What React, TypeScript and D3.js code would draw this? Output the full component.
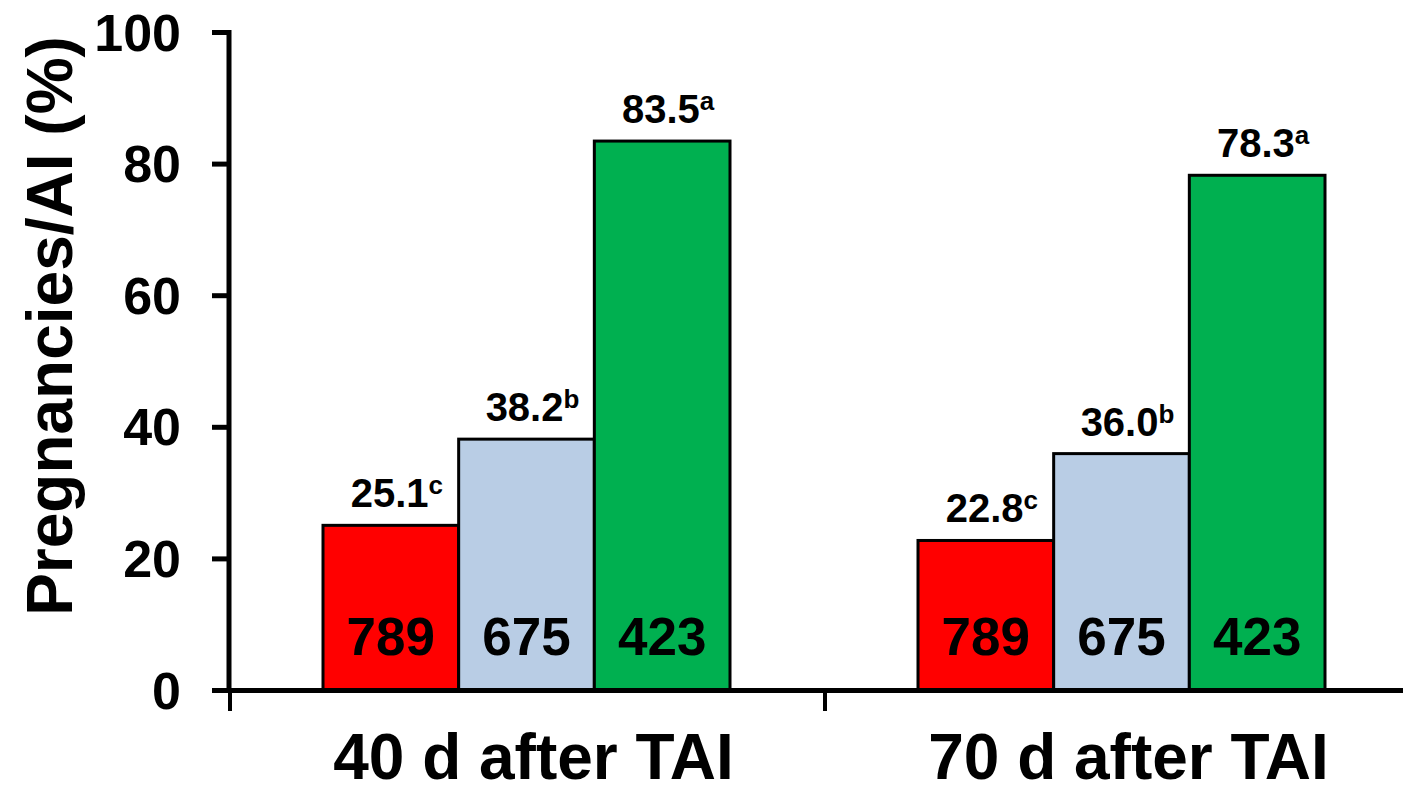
import React from "react";
import * as d3 from "d3";

const categories = ["40 d after TAI", "70 d after TAI"];
const series = ["s1", "s2", "s3"];
const colors = ["#FF0000", "#B9CDE5", "#00B050"];
const values = [
  [25.1, 38.2, 83.5],
  [22.8, 36.0, 78.3],
];
const letters = [
  ["c", "b", "a"],
  ["c", "b", "a"],
];
const counts = ["789", "675", "423"];
const yTicks = [0, 20, 40, 60, 80, 100];
const yLabel = "Pregnancies/AI (%)";

const W = 1403;
const H = 792;
const FONT = "'Liberation Sans', Arial, sans-serif";

export default function App() {
  const x = d3.scaleBand<string>().domain(categories).range([230, 1420]).padding(0);
  const inner = d3.scaleBand<string>().domain(series).range([93, 500]).padding(0);
  const y = d3.scaleLinear().domain([0, 100]).range([690.5, 32.5]);
  const boundaries = [230, 825, 1420];

  return (
    <svg width={W} height={H} style={{ position: "absolute", left: 0, top: 0 }} fontFamily={FONT}>
      <rect width={W} height={H} fill="#fff" />
      {categories.map((c, ci) =>
        series.map((s, si) => {
          const v = values[ci][si];
          const bx = (x(c) as number) + (inner(s) as number);
          const bw = inner.bandwidth();
          const top = y(v);
          return (
            <g key={c + s}>
              <rect x={bx} y={top} width={bw} height={y(0) - top} fill={colors[si]} stroke="#000" strokeWidth={3} />
              <text x={bx + bw / 2} y={655} textAnchor="middle" fontSize={53} fontWeight="bold" fill="#000">
                {counts[si]}
              </text>
              <text x={bx + bw / 2 + 6} y={top - 18} textAnchor="middle" fontSize={40} fontWeight="bold" fill="#000">
                {d3.format(".1f")(v)}
                <tspan fontSize={26} dy={-13}>{letters[ci][si]}</tspan>
              </text>
            </g>
          );
        })
      )}
      {/* y axis */}
      <line x1={229} x2={229} y1={y(100) - 2.5} y2={y(0)} stroke="#000" strokeWidth={5} />
      {yTicks.map((t) => (
        <g key={t}>
          <line x1={212} x2={231} y1={y(t)} y2={y(t)} stroke="#000" strokeWidth={5} />
          <text x={181} y={y(t) + 18} textAnchor="end" fontSize={52} fontWeight="bold" fill="#000">
            {t}
          </text>
        </g>
      ))}
      {/* x axis */}
      <line x1={227} x2={1420} y1={y(0)} y2={y(0)} stroke="#000" strokeWidth={5} />
      {boundaries.map((b) => (
        <line key={b} x1={b} x2={b} y1={y(0)} y2={711} stroke="#000" strokeWidth={4} />
      ))}
      {categories.map((c) => (
        <text key={c} x={(x(c) as number) + x.bandwidth() / 2 + 6} y={779} textAnchor="middle" fontSize={64} fontWeight="bold" fill="#000">
          {c}
        </text>
      ))}
      <text transform={`translate(72, 326) rotate(-90)`} textAnchor="middle" fontSize={64} fontWeight="bold" fill="#000">
        {yLabel}
      </text>
    </svg>
  );
}
